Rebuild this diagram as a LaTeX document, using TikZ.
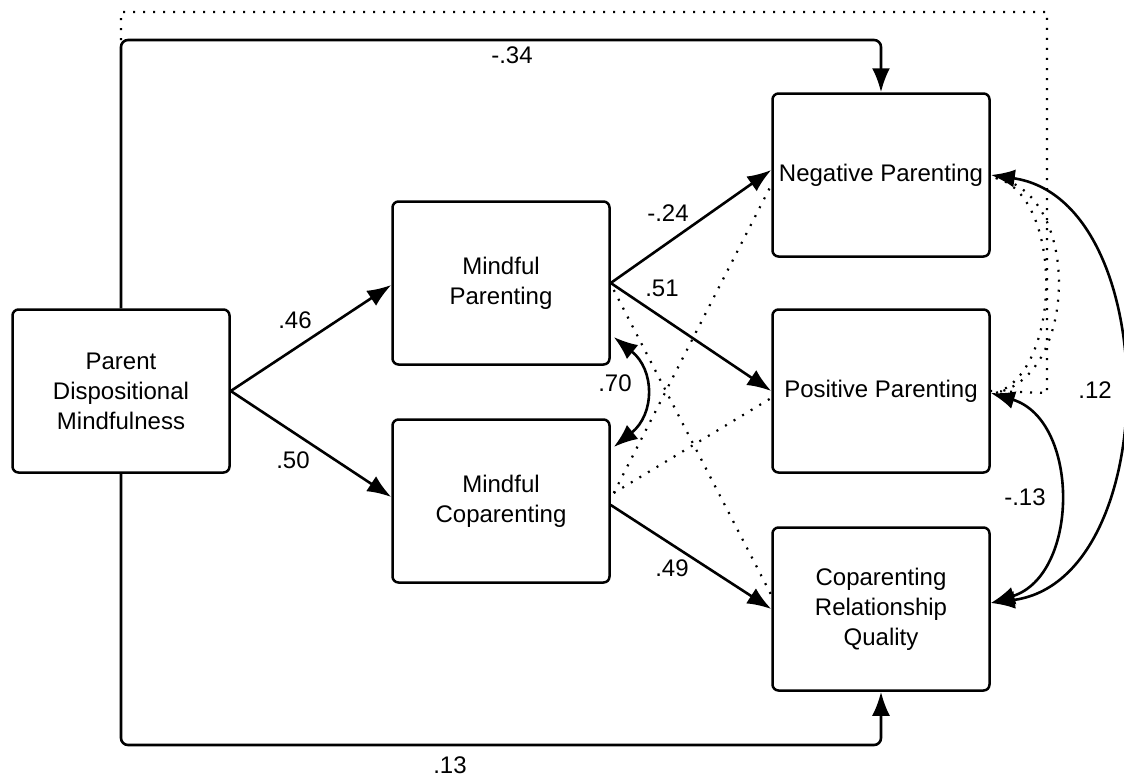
\documentclass[tikz,border=0pt]{standalone}
\usepackage{fontspec}
\setmainfont{Liberation Sans}
\usetikzlibrary{arrows.meta,calc}
\begin{document}
\begin{tikzpicture}[x=1pt,y=-1pt,
  box/.style={draw, line width=2.5pt, rounded corners=6pt, minimum width=217pt, minimum height=163pt, align=center, font=\fontsize{24}{30}\selectfont, inner sep=0pt},
  arr/.style={line width=2.6pt, -{Latex[length=24pt,width=18pt]}},
  darr/.style={line width=2.6pt, {Latex[length=24pt,width=18pt]}-{Latex[length=24pt,width=18pt]}},
  dots/.style={line width=2.2pt, dash pattern=on 2pt off 8pt},
  lbl/.style={font=\fontsize{24}{28}\selectfont, inner sep=0pt}
]
\useasboundingbox (0,0) rectangle (1124,779);

\node[box] (pdm) at (121,391) {Parent\\Dispositional\\Mindfulness};
\node[box] (mp) at (501,283) {Mindful\\Parenting};
\node[box] (mc) at (501,501) {Mindful\\Coparenting};
\node[box] (np) at (881,175) {\raisebox{4pt}{Negative Parenting}};
\node[box] (pp) at (881,391) {Positive Parenting};
\node[box] (crq) at (881,609) {Coparenting\\Relationship\\Quality};

\coordinate (tl) at (121,40);
\coordinate (tr) at (881,40);
\coordinate (bl) at (121,745);
\coordinate (br) at (881,745);
\coordinate (dtl) at (121,12);
\coordinate (dtr) at (1047,12);
\coordinate (dbr) at (1047,393);

% dotted paths
\draw[dots] (tl) -- (dtl) -- (dtr) -- (dbr) -- (pp.east);
\draw[dots] ($(mp.east)+(3,7)$) -- ($(crq.west)+(0,-14)$);
\draw[dots] ($(mc.east)+(3,-8)$) -- ($(np.west)+(0,10)$);
\draw[dots] ($(mc.east)+(3,-8)$) -- ($(pp.west)+(0,7)$);
\draw[dots] ($(np.east)+(5,3)$) .. controls (1080,190) and (1080,375) .. ($(pp.east)+(5,2)$);
\draw[dots] ($(np.east)+(5,3)$) .. controls (1063,195) and (1063,370) .. ($(pp.east)+(5,2)$);

% solid paths
\draw[arr, rounded corners=7pt] (pdm.north) -- (tl) -- (tr) -- (np.north);
\draw[arr, rounded corners=7pt] (pdm.south) -- (bl) -- (br) -- (crq.south);
\draw[arr] (pdm.east) -- ($(mp.west)+(0,2)$);
\draw[arr] (pdm.east) -- ($(mc.west)+(0,-4)$);
\draw[arr] (mp.east) -- ($(np.west)+(0,-5)$);
\draw[arr] (mp.east) -- (pp.west);
\draw[arr] ($(mc.east)+(0,4)$) -- (crq.west);
\draw[darr] ($(mp.east)+(3,54)$) .. controls (655,370) and (655,414) .. ($(mc.east)+(3,-54)$);
\draw[darr] (np.east) .. controls (1165,200) and (1165,580) .. ($(crq.east)+(0,-6)$);
\draw[darr] ($(pp.east)+(0,2)$) .. controls (1080,420) and (1080,575) .. ($(crq.east)+(0,-6)$);

% labels
\node[lbl] (l34) at (512,55) {-.34};
\node[lbl] (l13) at (450,765) {.13};
\node[lbl] (l46) at (295,320) {.46};
\node[lbl] (l50) at (293,460) {.50};
\node[lbl] (l24) at (668,213) {-.24};
\node[lbl] (l51) at (662,288) {.51};
\node[lbl] (l70) at (615,383) {.70};
\node[lbl] (l49) at (672,568) {.49};
\node[lbl] (l12) at (1095,390) {.12};
\node[lbl] (l13b) at (1025,497) {-.13};
\end{tikzpicture}
\end{document}
